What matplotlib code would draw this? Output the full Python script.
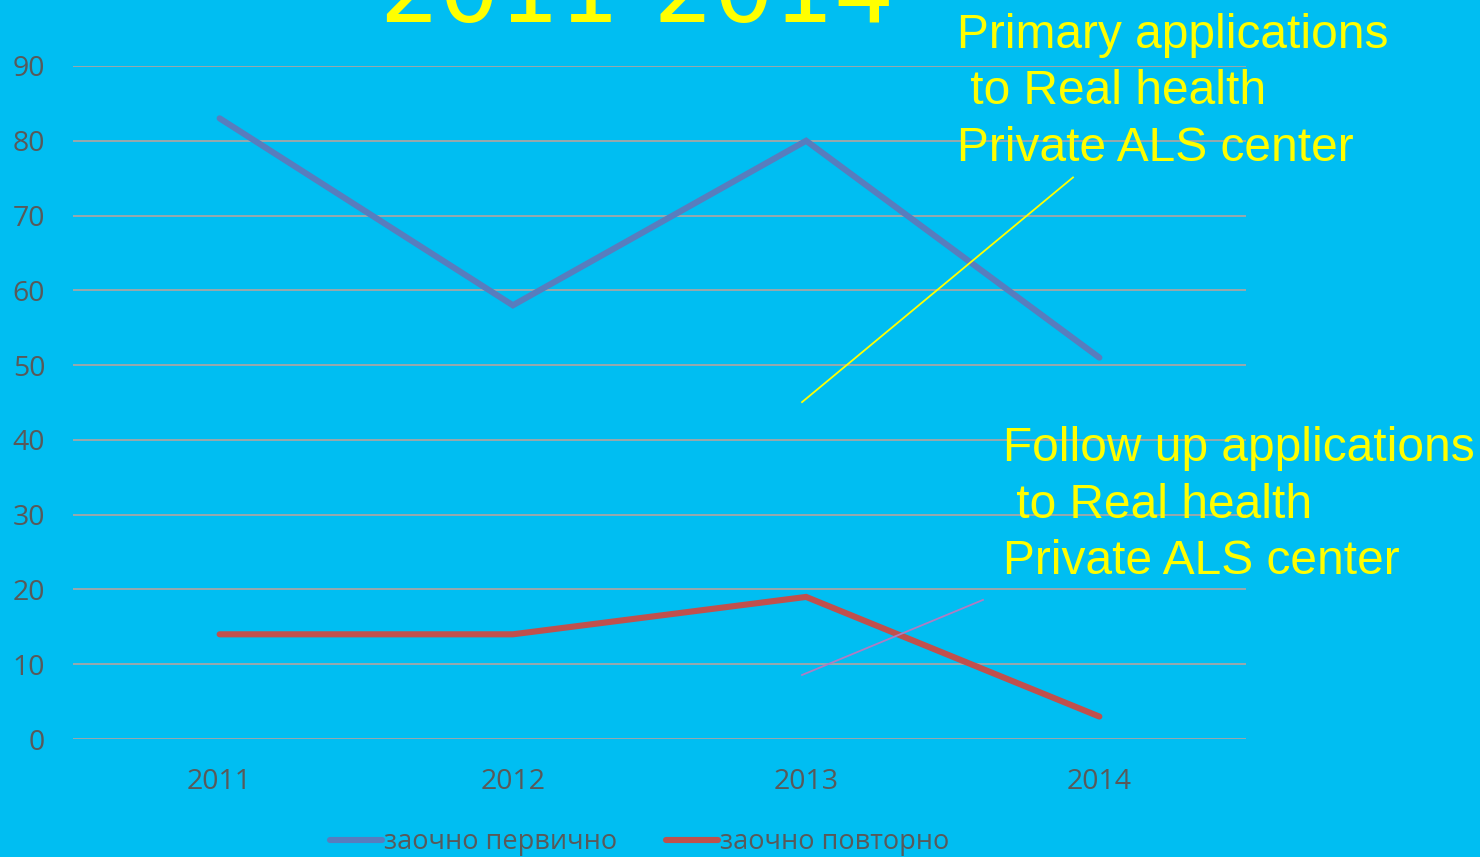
import matplotlib
matplotlib.use("Agg")
import matplotlib.pyplot as plt

years = ["2011", "2012", "2013", "2014"]
primary = [83, 58, 80, 51]
follow_up = [14, 14, 19, 3]
series_names = ["заочно первично", "заочно повторно"]
title = "2011-2014"
note_primary = "Primary applications\n to Real health\nPrivate ALS center"
note_follow = "Follow up applications\n to Real health\nPrivate ALS center"

BG = "#00BEF2"
BLUE = "#587DBE"
RED = "#C0504D"
YELLOW = "#FFFF00"
GRAY = "#595959"

fig = plt.figure(figsize=(14.8, 8.57), dpi=100, facecolor=BG)
ax = fig.add_axes([73/1480, 1-739/857, (1246-73)/1480, (739-66)/857])
ax.set_facecolor(BG)

x = list(range(len(years)))
l1, = ax.plot(x, primary, color=BLUE, lw=4.4, solid_capstyle="round", solid_joinstyle="miter", zorder=3)
l2, = ax.plot(x, follow_up, color=RED, lw=4.4, solid_capstyle="round", solid_joinstyle="miter", zorder=3)

ax.set_xlim(-0.5, 3.5)
ax.set_ylim(0, 90)
ax.set_yticks(range(0, 91, 10))
ax.set_xticks(x)
ax.set_xticklabels(years)
ax.grid(axis="y", color="#A6A6A6", lw=1.3, zorder=1)
ax.grid(axis="x", visible=False)
for s in ax.spines.values():
    s.set_visible(False)
ax.tick_params(length=0, colors=GRAY, labelsize=20.5)
ax.tick_params(axis="y", pad=20)
ax.tick_params(axis="x", pad=21)
for lab in ax.get_xticklabels() + ax.get_yticklabels():
    lab.set_fontfamily("Open Sans")
    lab.set_color(GRAY)

# connector lines (decorative annotations)
ax.plot([1.986, 2.91], [45.05, 75.1], color=YELLOW, lw=1.3, zorder=4, clip_on=False)
ax.plot([1.986, 2.603], [8.56, 18.6], color="#B07CC2", lw=1.3, zorder=4, clip_on=False)

fig.text(637/1480, 1-22/857, title, color=YELLOW, fontsize=68, family="DejaVu Sans",
         ha="center", va="baseline")
fig.text(957/1480, 1-92/857, note_primary, color=YELLOW, fontsize=34.5,
         family="Liberation Sans", ha="left", va="center", linespacing=1.32)
fig.text(1003/1480, 1-505/857, note_follow, color=YELLOW, fontsize=34.5,
         family="Liberation Sans", ha="left", va="center", linespacing=1.32)

leg = fig.legend([l1, l2], series_names, loc="center", ncol=2,
                 bbox_to_anchor=(640/1480, 1-842/857), frameon=False,
                 prop={"family": "Open Sans", "size": 19.5}, handlelength=1.9,
                 handletextpad=0.1, columnspacing=1.8)
for t in leg.get_texts():
    t.set_color(GRAY)

fig.savefig("out.png", dpi=100, facecolor=BG)
